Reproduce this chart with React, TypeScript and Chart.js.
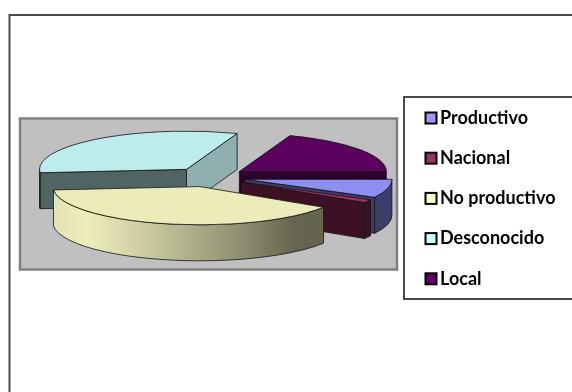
import React, { useEffect, useRef } from "react";
import { Chart, registerables } from "chart.js";

Chart.register(...registerables);

// Slice data, in clockwise order starting from the +x direction.
const categories = ["Productivo", "Nacional", "No productivo", "Desconocido", "Local"];
const shareValues = [7.8, 1.3, 39.5, 32, 19.4];

// Exploded distance of each slice, measured on the unsquashed disc.
const sliceOffsets = [37, 37, 38, 37, 37];

const topColors = ["#8E8EEE", "#A03060", "#ECECBA", "#BCECEC", "#5C005E"];
const outerWallColors = ["#3E3E6A", "#3A1226", "#ECECBA", "#506464", "#2E0030"];
const startWallColors = ["#3E3E6A", "#3A1226", "#8F8F72", "#506464", "#2E0030"];
const endWallColors = ["#3E3E6A", "#3E1024", "#8F8F72", "#8FB0B0", "#2E0030"];
const legendSwatches = ["#9999FF", "#993366", "#FFFFCC", "#CCFFFF", "#660066"];

// Back-to-front order so nearer slices cover farther ones.
const paintOrder = [4, 3, 0, 1, 2];

const TILT = 0.26;
const DEPTH = 36;
const OUTLINE = "rgba(20,20,20,0.8)";

function edgeWall(ctx: CanvasRenderingContext2D, cx: number, cy: number, r: number, a: number, fill: string) {
  const ex = cx + r * Math.cos(a);
  const ey = cy + r * TILT * Math.sin(a);
  ctx.beginPath();
  ctx.moveTo(cx, cy);
  ctx.lineTo(ex, ey);
  ctx.lineTo(ex, ey + DEPTH);
  ctx.lineTo(cx, cy + DEPTH);
  ctx.closePath();
  ctx.fillStyle = fill;
  ctx.fill();
  ctx.stroke();
}

function rimWall(ctx: CanvasRenderingContext2D, cx: number, cy: number, r: number, a: number, b: number, fill: string | CanvasGradient) {
  ctx.beginPath();
  ctx.ellipse(cx, cy, r, r * TILT, 0, a, b);
  ctx.ellipse(cx, cy + DEPTH, r, r * TILT, 0, b, a, true);
  ctx.closePath();
  ctx.fillStyle = fill;
  ctx.fill();
  ctx.stroke();
}

// Extruded, tilted pie: geometry comes from the arc elements the controller laid out.
const tiltedPie = {
  id: "tiltedPie",
  beforeDatasetDraw(chart: any) {
    const ctx: CanvasRenderingContext2D = chart.ctx;
    const arcs = chart.getDatasetMeta(0).data;
    ctx.save();
    ctx.lineWidth = 1;
    ctx.strokeStyle = OUTLINE;
    ctx.lineJoin = "round";
    for (const i of paintOrder) {
      const arc = arcs[i];
      const { x, y, startAngle: s, endAngle: e, outerRadius: r } = arc.getProps(["x", "y", "startAngle", "endAngle", "outerRadius"]);
      const mid = (s + e) / 2;
      const off = arc.options.offset;
      const cx = x + Math.cos(mid) * off;
      const cy = y + Math.sin(mid) * off * TILT;

      if (-Math.cos(s) > 0) edgeWall(ctx, cx, cy, r, s, startWallColors[i]);
      if (Math.cos(e) > 0) edgeWall(ctx, cx, cy, r, e, endWallColors[i]);

      const a = Math.max(s, 0);
      const b = Math.min(e, Math.PI);
      if (b > a) {
        let fill: string | CanvasGradient = outerWallColors[i];
        if (categories[i] === "No productivo") {
          const g = ctx.createLinearGradient(cx - r, 0, cx + r * 0.82, 0);
          g.addColorStop(0, "#E2E2B4");
          g.addColorStop(0.13, "#EDEDBB");
          g.addColorStop(0.46, "#B8B892");
          g.addColorStop(0.7, "#8F8F72");
          g.addColorStop(0.9, "#666650");
          g.addColorStop(1, "#64644F");
          fill = g;
        }
        rimWall(ctx, cx, cy, r, a, b, fill);
      }

      ctx.beginPath();
      ctx.moveTo(cx, cy);
      ctx.ellipse(cx, cy, r, r * TILT, 0, s, e);
      ctx.closePath();
      ctx.fillStyle = arc.options.backgroundColor;
      ctx.fill();
      ctx.stroke();
    }
    ctx.restore();
    return false;
  },
};

// White page, outer frame, grey plot panel, and the legend box on top.
const panels = {
  id: "panels",
  beforeDraw(chart: any) {
    const ctx: CanvasRenderingContext2D = chart.ctx;
    ctx.save();
    ctx.fillStyle = "#FFFFFF";
    ctx.fillRect(0, 0, chart.width, chart.height);

    ctx.lineWidth = 2;
    ctx.strokeStyle = "#4A4A4A";
    ctx.beginPath();
    ctx.moveTo(9.5, chart.height);
    ctx.lineTo(9.5, 15);
    ctx.lineTo(chart.width, 15);
    ctx.stroke();

    ctx.fillStyle = "#C0C0C0";
    ctx.fillRect(20, 118.5, 377, 151);
    ctx.lineWidth = 2.5;
    ctx.strokeStyle = "#808080";
    ctx.strokeRect(20, 118.5, 377, 151);
    ctx.restore();
  },
  afterDraw(chart: any) {
    const ctx: CanvasRenderingContext2D = chart.ctx;
    ctx.save();
    ctx.lineWidth = 2;
    ctx.strokeStyle = "#4A4A4A";
    ctx.fillStyle = "#FFFFFF";
    ctx.beginPath();
    ctx.moveTo(chart.width, 97);
    ctx.lineTo(404, 97);
    ctx.lineTo(404, 299);
    ctx.lineTo(chart.width, 299);
    ctx.fill();
    ctx.stroke();

    ctx.font = "bold 18px Lato";
    ctx.textBaseline = "middle";
    chart.data.labels.forEach((label: string, i: number) => {
      const rowY = 118 + i * 40.2;
      ctx.fillStyle = legendSwatches[i];
      ctx.strokeStyle = "#000000";
      ctx.lineWidth = 2;
      ctx.fillRect(425.5, rowY - 5.5, 11, 11);
      ctx.strokeRect(425.5, rowY - 5.5, 11, 11);
      ctx.fillStyle = "#000000";
      ctx.fillText(label, 440, rowY);
    });
    ctx.restore();
  },
};

export default function App() {
  const canvasRef = useRef<HTMLCanvasElement>(null);

  useEffect(() => {
    const chart = new Chart(canvasRef.current as HTMLCanvasElement, {
      type: "pie",
      data: {
        labels: categories,
        datasets: [
          {
            data: shareValues,
            backgroundColor: topColors,
            offset: sliceOffsets,
            borderWidth: 0,
          },
        ],
      },
      options: {
        responsive: false,
        animation: false,
        rotation: 90,
        radius: 147,
        layout: { padding: { left: 0, top: 0, right: 154, bottom: 38 } },
        plugins: { legend: { display: false }, tooltip: { enabled: false } },
      },
      plugins: [panels, tiltedPie],
    } as any);
    return () => chart.destroy();
  }, []);

  return (
    <div style={{ position: "absolute", left: 0, top: 0, width: 572, height: 392 }}>
      <canvas ref={canvasRef} width={572} height={392} style={{ display: "block" }} />
    </div>
  );
}
